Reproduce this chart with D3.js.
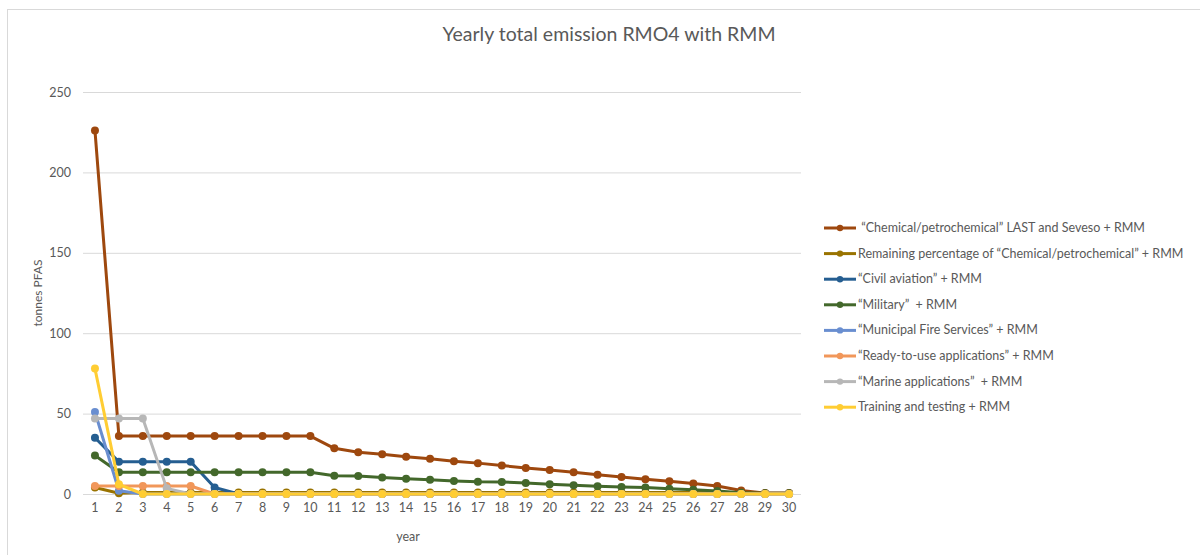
<!DOCTYPE html>
<html><head><meta charset="utf-8">
<script src="https://cdn.jsdelivr.net/npm/d3@7"></script>
<style>
body{margin:0;background:#fff;}
text{font-family:Lato,"Open Sans",sans-serif;fill:#595959;}
</style></head>
<body><svg id="c" width="1200" height="555"></svg>
<script>
const years = d3.range(1,31);
const yTicks = [0,50,100,150,200,250];
const seriesNames = [
  " \u201CChemical/petrochemical\u201D LAST and Seveso + RMM",
  "Remaining percentage of \u201CChemical/petrochemical\u201D + RMM",
  "\u201CCivil aviation\u201D + RMM",
  "\u201CMilitary\u201D  + RMM",
  "\u201CMunicipal Fire Services\u201D + RMM",
  "\u201CReady-to-use applications\u201D + RMM",
  "\u201CMarine applications\u201D  + RMM",
  "Training and testing + RMM"
];
const seriesColors = ["#9E480E","#997300","#255E91","#43682B","#698ED0","#F1975A","#B7B7B7","#FFCD33"];
const chemical = [226,36,36,36,36,36,36,36,36,36,28.4,26,24.7,23.2,21.9,20.4,19.2,17.7,16.2,14.9,13.5,12,10.5,9.1,7.9,6.6,5,2.2,0.6,0.6];
const remaining = [4,0.5,1,1,1,1,1,1,1,1,1,1,1,1,1,1,1,1,1,1,1,1,1,1,1,1,1,0.8,0.3,0.3];
const civil = [35,20,20,20,20,4,0,0,0,0,0,0,0,0,0,0,0,0,0,0,0,0,0,0,0,0,0,0,0,0];
const military = [24,13.5,13.5,13.5,13.5,13.5,13.5,13.5,13.5,13.5,11.3,11.2,10.3,9.5,8.8,8.1,7.6,7.5,6.8,6,5.4,4.8,4.3,4,3.3,2.6,1.8,0.8,0.4,0.4];
const municipal = [51,2,0,0,0,0,0,0,0,0,0,0,0,0,0,0,0,0,0,0,0,0,0,0,0,0,0,0,0,0];
const readyToUse = [5,5,5,5,5,0,0,0,0,0,0,0,0,0,0,0,0,0,0,0,0,0,0,0,0,0,0,0,0,0];
const marine = [47,47,47,3.5,0,0,0,0,0,0,0,0,0,0,0,0,0,0,0,0,0,0,0,0,0,0,0,0,0,0];
const training = [78,6,0,0,0,0,0,0,0,0,0,0,0,0,0,0,0,0,0,0,0,0,0,0,0,0,0,0,0,0];
const allValues = [chemical,remaining,civil,military,municipal,readyToUse,marine,training];

const svg = d3.select("#c");
svg.append("rect").attr("x",7.5).attr("y",9.5).attr("width",1200).attr("height",560)
  .attr("fill","#fff").attr("stroke","#D9D9D9");

const x = d3.scaleBand().domain(years).range([83,801]).padding(0);
const y = d3.scaleLinear().domain([0,250]).range([494,92]);
const cx = d => x(d)+x.bandwidth()/2;

svg.append("g").selectAll("line").data(yTicks).join("line")
  .attr("x1",83).attr("x2",801).attr("y1",d=>y(d)+0.5).attr("y2",d=>y(d)+0.5)
  .attr("stroke","#D9D9D9").attr("stroke-width",1);

const yAxis = d3.axisLeft(y).tickValues(yTicks).tickSize(0).tickPadding(0);
const gy = svg.append("g").attr("transform","translate(71,0)").call(yAxis);
gy.select(".domain").remove();
gy.selectAll("text").style("font-size","12.5px").style("font-family","Lato,sans-serif").attr("fill","#595959");

const xAxis = d3.axisBottom(x).tickSize(0).tickPadding(0);
const gx = svg.append("g").attr("transform","translate(0,503)").call(xAxis);
gx.select(".domain").remove();
gx.selectAll("text").style("font-size","12.5px").style("font-family","Lato,sans-serif").attr("fill","#595959");

const line = d3.line().x((d,i)=>cx(years[i])).y(d=>y(d));
allValues.forEach((vals,si)=>{
  const g = svg.append("g");
  g.append("path").attr("d",line(vals)).attr("fill","none")
    .attr("stroke",seriesColors[si]).attr("stroke-width",3).attr("stroke-linejoin","round").attr("stroke-linecap","round");
  g.selectAll("circle").data(vals).join("circle")
    .attr("cx",(d,i)=>cx(years[i])).attr("cy",d=>y(d)).attr("r",4)
    .attr("fill",seriesColors[si]);
});

svg.append("text").attr("x",609).attr("y",41).attr("text-anchor","middle")
  .style("font-size","19.5px").text("Yearly total emission RMO4 with RMM");

svg.append("text").attr("transform","translate(42,293) rotate(-90)").attr("text-anchor","middle")
  .style("font-size","12px").text("tonnes PFAS");
svg.append("text").attr("x",408).attr("y",541).attr("text-anchor","middle")
  .style("font-size","12.5px").text("year");

const lg = svg.append("g");
seriesNames.forEach((name,i)=>{
  const ly = 228 + i*25.6;
  const g = lg.append("g").attr("transform",`translate(0,${ly})`);
  g.append("line").attr("x1",824).attr("x2",856).attr("y1",0).attr("y2",0)
    .attr("stroke",seriesColors[i]).attr("stroke-width",3);
  g.append("circle").attr("cx",840).attr("cy",0).attr("r",3.2).attr("fill",seriesColors[i]);
  g.append("text").attr("x",858).attr("y",4).style("font-size","12.5px").style("white-space","pre").text(name);
});
</script></body></html>
